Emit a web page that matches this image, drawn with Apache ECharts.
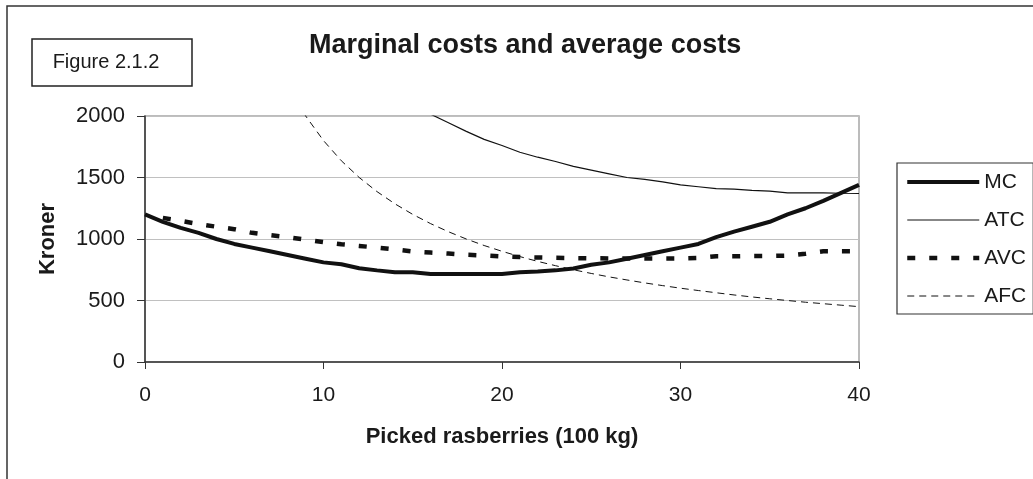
<!DOCTYPE html>
<html>
<head>
<meta charset="utf-8">
<script src="https://cdn.jsdelivr.net/npm/echarts@6/dist/echarts.min.js"></script>
<style>
html,body{margin:0;padding:0;background:#fff;}
#c{width:1033px;height:479px;}
</style>
</head>
<body>
<div id="c"></div>
<script>
// Picked rasberries (100 kg)
const quantity = [0,1,2,3,4,5,6,7,8,9,10,11,12,13,14,15,16,17,18,19,20,21,22,23,24,25,26,27,28,29,30,31,32,33,34,35,36,37,38,39,40];
// Kroner
const mc  = [1200,1140,1090,1050,1000,960,930,900,870,840,810,795,762,745,730,730,716,715,715,715,716,730,735,745,760,790,810,840,870,900,930,960,1015,1060,1100,1140,1200,1250,1310,1375,1440];
const atc = [null,19170,10145,7120,5600,4680,4050,3600,3260,2995,2775,2595,2445,2315,2200,2100,2015,1945,1875,1810,1760,1705,1665,1630,1590,1560,1530,1500,1485,1465,1440,1425,1410,1405,1395,1390,1375,1375,1375,1372,1370];
const avc = [null,1172,1147,1122,1100,1080,1050,1032,1015,995,975,957,944,930,915,898,890,882,872,866,858,853,850,847,845,843,842,842,842,842,842,845,860,860,862,862,865,880,900,900,900];
const afc = [null,18000,9000,6000,4500,3600,3000,2570,2250,2000,1800,1636,1500,1385,1286,1200,1125,1059,1000,947,900,857,818,783,750,720,692,667,643,621,600,581,563,545,529,514,500,486,474,462,450];
const seriesNames = ['MC','ATC','AVC','AFC'];
const xTicks = [0,10,20,30,40];
const yTicks = [0,500,1000,1500,2000];

const pairs = arr => quantity.map((q,i) => [q, arr[i]]);
const FONT = '"Liberation Sans", Arial, sans-serif';
const INK = '#111';

const chart = echarts.init(document.getElementById('c'), null, {renderer:'canvas'});
const styles = {
  MC:  {width:4,   type:'solid'},
  ATC: {width:1.2, type:'solid'},
  AVC: {width:4.5, type:[8,14]},
  AFC: {width:1,   type:[7,5]}
};
const dataMap = {MC:mc, ATC:atc, AVC:avc, AFC:afc};

chart.setOption({
  animation:false,
  backgroundColor:'#fff',
  title:{
    text:'Marginal costs and average costs',
    left:304, top:27,
    textStyle:{fontFamily:FONT, fontSize:27, fontWeight:'bold', color:'#1a1a1a'}
  },
  graphic:[
    {type:'rect', shape:{x:7, y:6, width:1100, height:600}, style:{fill:null, stroke:'#333', lineWidth:1.5}, silent:true},
    {type:'rect', shape:{x:32, y:39, width:160, height:47}, style:{fill:'#fff', stroke:'#222', lineWidth:1.5}, silent:true},
    {type:'text', x:106, y:62, style:{text:'Figure 2.1.2', fontFamily:FONT, fontSize:20, fill:'#1a1a1a', align:'center', verticalAlign:'middle'}, silent:true}
  ],
  legend:{
    orient:'vertical', left:897, top:163,
    padding:[8,7,7,8],
    borderColor:'#333', borderWidth:1.2,
    itemWidth:72, itemHeight:14, itemGap:16,
    textStyle:{fontFamily:FONT, fontSize:21, color:'#1a1a1a', lineHeight:22},
    data: seriesNames.map(n => ({
      name:n,
      itemStyle:{opacity:0, borderWidth:0},
      lineStyle:{width:styles[n].width, type:styles[n].type, color:INK, opacity:1}
    }))
  },
  grid:{left:145, right:174, top:116, bottom:117, show:true, borderColor:'#a6a6a6', borderWidth:1.5},
  xAxis:{
    type:'value', min:0, max:40, interval:10,
    name:'Picked rasberries (100 kg)', nameLocation:'middle', nameGap:64,
    nameTextStyle:{fontFamily:FONT, fontSize:22, fontWeight:'bold', color:'#1a1a1a'},
    axisLine:{lineStyle:{color:'#333', width:1.5}},
    axisTick:{show:true, length:7, lineStyle:{color:'#333'}},
    axisLabel:{margin:23, fontFamily:FONT, fontSize:21, color:'#1a1a1a', formatter:v => xTicks.includes(v) ? String(v) : ''},
    splitLine:{show:false}
  },
  yAxis:{
    type:'value', min:0, max:2000, interval:500,
    name:'Kroner', nameLocation:'middle', nameGap:86,
    nameTextStyle:{fontFamily:FONT, fontSize:22, fontWeight:'bold', color:'#1a1a1a'},
    axisLine:{show:true, lineStyle:{color:'#333', width:1.5}},
    axisTick:{show:true, length:8, lineStyle:{color:'#333'}},
    axisLabel:{margin:20, fontFamily:FONT, fontSize:22, color:'#1a1a1a', formatter:v => yTicks.includes(v) ? String(v) : ''},
    splitLine:{show:true, lineStyle:{color:'#c0c0c0', width:1}}
  },
  series: seriesNames.slice().reverse().map(n => ({
    name:n, type:'line', data:pairs(dataMap[n]), symbol:'none', showSymbol:false,
    clip:true, connectNulls:false, smooth:false,
    lineStyle:{color:INK, width:styles[n].width, type:styles[n].type},
    itemStyle:{color:INK},
    emphasis:{disabled:true}
  }))
});
</script>
</body>
</html>
